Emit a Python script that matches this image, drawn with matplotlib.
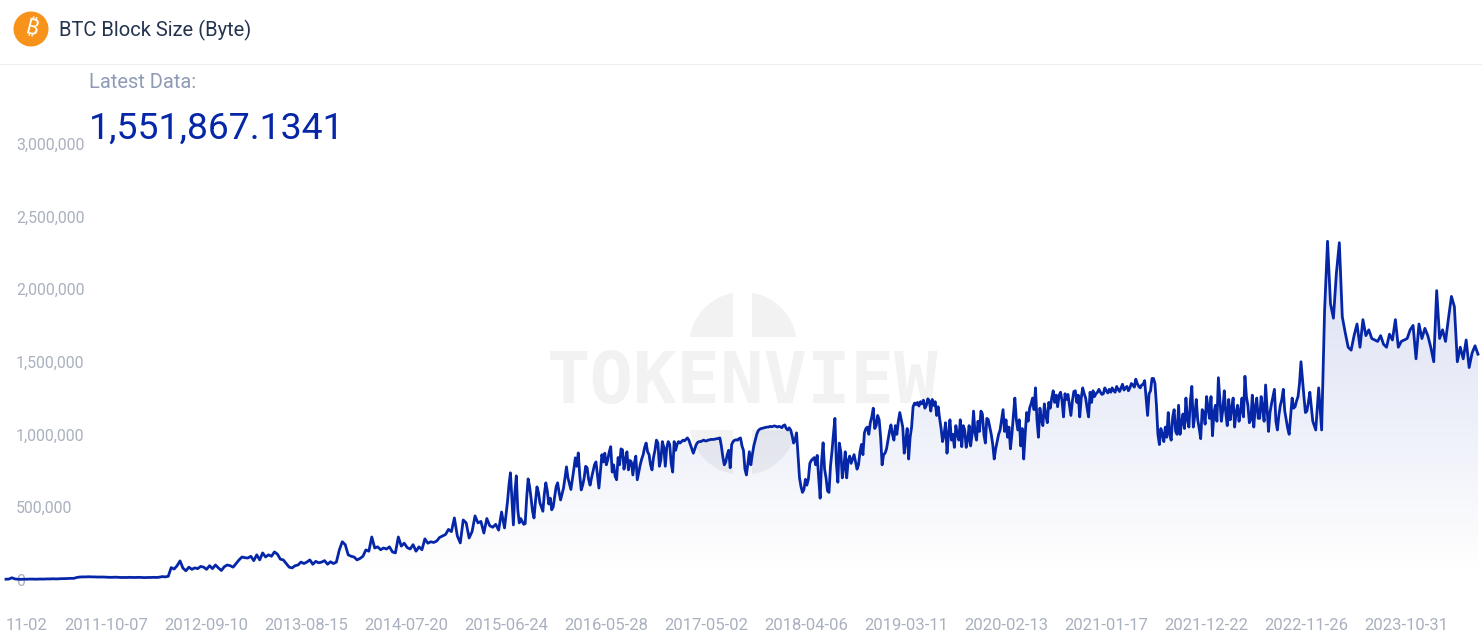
#!/usr/bin/env python3
"""BTC block size chart with gradient area fill"""

import numpy as np
import matplotlib
matplotlib.use("Agg")
import matplotlib.pyplot as plt
import matplotlib.dates as mdates
from matplotlib.patches import Circle, Rectangle

plt.rcParams['font.family'] = ['Roboto', 'DejaVu Sans']

TITLE = "BTC Block Size (Byte)"
LATEST_LABEL = "Latest Data:"
LATEST_VALUE = "1,551,867.1341"

x_tick_labels = ["2010-11-02", "2011-10-07", "2012-09-10", "2013-08-15", "2014-07-20",
                 "2015-06-24", "2016-05-28", "2017-05-02", "2018-04-06", "2019-03-11",
                 "2020-02-13", "2021-01-17", "2021-12-22", "2022-11-26", "2023-10-31"]
y_ticks = [0, 500000, 1000000, 1500000, 2000000, 2500000, 3000000]

# kilobytes, one reading every 10 days
sizes_2010 = [2, 3, 12, 4, 2, 1, 2, 2, 3, 3, 2, 3, 3, 3, 4, 4, 5, 4, 5, 6, 6, 7, 8, 8, 14, 17, 18, 18, 19, 18, 18, 17, 17, 17]
sizes_2011 = [16, 15, 15, 16, 15, 14, 14, 14, 15, 14, 14, 15, 14, 13, 14, 14, 15, 14, 16, 20, 18, 22, 82, 72, 95, 128, 78, 60, 85, 70, 80, 75, 90, 85]
sizes_2012 = [70, 95, 75, 100, 80, 62, 88, 100, 95, 85, 110, 135, 155, 150, 148, 160, 130, 170, 135, 183, 155, 170, 160, 190, 175, 140, 135, 110, 85, 80, 95, 100, 120, 110]
sizes_2013 = [120, 135, 105, 125, 115, 120, 130, 105, 122, 110, 120, 204, 260, 240, 170, 160, 155, 135, 145, 160, 204, 195, 293, 217, 225, 205, 217, 210, 225, 190, 183, 293, 230, 250]
sizes_2014 = [220, 210, 240, 195, 225, 205, 280, 250, 260, 255, 265, 290, 300, 310, 345, 330, 424, 300, 252, 410, 390, 286, 330, 438, 390, 400, 320, 420, 370, 360, 380, 340, 465, 355]
# the noisy years, one reading every 5 days
sizes_2015 = [535, 650, 735, 560, 376, 600, 714, 480, 390, 420, 400, 380, 385, 560, 693, 640, 560, 470, 424, 540, 638, 600, 528, 500, 470, 590, 666, 610, 520, 560, 480, 500, 570, 640, 666, 600, 548, 590, 630, 700, 776, 700, 660, 620, 690, 760, 838, 780, 872, 720, 617, 650, 700, 780, 770, 690, 650, 700, 745, 790, 810, 720, 630, 740, 860, 810, 870, 790]
sizes_2016 = [825, 880, 915, 740, 790, 710, 687, 840, 790, 900, 893, 760, 825, 880, 755, 820, 810, 720, 800, 850, 687, 740, 790, 830, 860, 910, 940, 880, 860, 790, 755, 840, 890, 960, 940, 780, 825, 950, 910, 780, 910, 950, 930, 800, 740, 950, 890, 930, 950, 940, 950, 960, 955, 965, 975, 960, 930, 900, 870, 900, 930, 945, 950, 950, 955, 960, 955, 955]
sizes_2017 = [960, 962, 965, 965, 965, 968, 970, 972, 975, 920, 845, 790, 810, 860, 890, 770, 930, 950, 960, 962, 960, 970, 975, 920, 890, 760, 720, 800, 880, 790, 860, 920, 960, 1000, 1025, 1035, 1040, 1042, 1045, 1048, 1050, 1050, 1055, 1052, 1055, 1058, 1055, 1050, 1055, 1052, 1045, 1060, 1065, 1040, 1030, 1045, 1030, 990, 940, 960, 1010, 860, 700, 640, 600, 620, 690, 650]
sizes_2018 = [690, 800, 820, 830, 840, 790, 855, 700, 560, 820, 942, 760, 700, 610, 600, 780, 880, 1000, 1110, 800, 670, 940, 880, 700, 770, 880, 700, 820, 850, 800, 830, 860, 810, 760, 790, 880, 930, 860, 1010, 1040, 1050, 1000, 1080, 1120, 1180, 1040, 1060, 1130, 1100, 980, 790, 860, 870, 900, 960, 1020, 1065, 1000, 960, 1060, 1000, 1090, 1150, 1100, 1050, 870, 950, 1040]
sizes_2019 = [830, 980, 1050, 1190, 1215, 1205, 1220, 1195, 1225, 1210, 1235, 1180, 1200, 1245, 1230, 1160, 1240, 1200, 1225, 1130, 1190, 1110, 1040, 950, 1000, 1080, 870, 1000, 1100, 960, 1000, 910, 1060, 1000, 960, 1100, 915, 1060, 1030, 910, 960, 1060, 920, 1000, 1160, 1010, 960, 1090, 1020, 1160, 1140, 1000, 940, 1110, 1100, 1050, 1000, 930, 830, 900, 950, 1000, 1030, 1100, 1170, 1020, 1100, 980]
sizes_2020 = [1050, 900, 1000, 1130, 1250, 1100, 1030, 1100, 920, 1040, 830, 1000, 1150, 1090, 1180, 1210, 1250, 1170, 1320, 1100, 980, 1180, 1100, 1060, 1210, 1130, 1080, 1220, 1180, 1250, 1300, 1220, 1270, 1190, 1270, 1290, 1230, 1120, 1280, 1240, 1275, 1200, 1130, 1230, 1295, 1300, 1220, 1270, 1120, 1250, 1320, 1280, 1250, 1180, 1120, 1290, 1220, 1300, 1260, 1280, 1290, 1310, 1290, 1275, 1280, 1320, 1300, 1285]
sizes_2021 = [1310, 1290, 1320, 1300, 1290, 1330, 1310, 1295, 1320, 1345, 1305, 1320, 1330, 1300, 1320, 1350, 1340, 1325, 1380, 1350, 1330, 1320, 1340, 1345, 1370, 1250, 1130, 1280, 1300, 1385, 1385, 1350, 1200, 1000, 930, 1040, 1000, 950, 1050, 980, 1150, 1000, 960, 1120, 1170, 1020, 1000, 1200, 1000, 1080, 1140, 1040, 1250, 1100, 1050, 1230, 1330, 1050, 1130, 1240, 1100, 1040, 970, 1170, 1150, 1070, 1260, 1180]
sizes_2022 = [1110, 1260, 990, 1150, 1200, 1090, 1390, 1240, 1090, 1170, 1300, 1150, 1060, 1240, 1100, 1180, 1250, 1050, 1150, 1200, 1090, 1160, 1250, 1120, 1400, 1260, 1200, 1080, 1100, 1270, 1050, 1190, 1250, 1110, 1110, 1260, 1180, 1090, 1340, 1180, 1020, 1150, 1210, 1260, 1310, 1090, 1030, 1130, 1200, 1240, 1310, 1160, 1100, 1040, 1000, 1130, 1250, 1180, 1190, 1230, 1260, 1350, 1500, 1380, 1260, 1150, 1160, 1220]
# back to 10 days
sizes_2023 = [1290, 1090, 1030, 1320, 1030, 1850, 2330, 1900, 1800, 2110, 2320, 1810, 1700, 1600, 1580, 1680, 1760, 1600, 1790, 1680, 1720, 1660, 1650, 1640, 1680, 1620, 1600, 1690, 1650, 1790, 1600, 1640, 1650, 1660]
sizes_2024 = [1720, 1750, 1520, 1760, 1660, 1730, 1680, 1600, 1500, 1990, 1660, 1720, 1640, 1800, 1950, 1880, 1500, 1600, 1520, 1650, 1460, 1560, 1610, 1552]

rows_10d_a = [sizes_2010, sizes_2011, sizes_2012, sizes_2013, sizes_2014]
rows_5d = [sizes_2015, sizes_2016, sizes_2017, sizes_2018, sizes_2019, sizes_2020, sizes_2021, sizes_2022]
rows_10d_b = [sizes_2023, sizes_2024]

sizes = 1000 * np.array(sum(rows_10d_a + rows_5d + rows_10d_b, []), dtype=float)
steps = [10] * sum(map(len, rows_10d_a)) + [5] * sum(map(len, rows_5d)) + [10] * sum(map(len, rows_10d_b))
days = np.concatenate([[0], np.cumsum(steps)[:-1]])

LINE_BLUE = "#0626a8"
W, H = 1482, 640
PX_PER_DAY = 100 / 339

tick_nums = mdates.date2num(np.array(x_tick_labels, dtype="datetime64[D]"))
x = tick_nums[0] + days

fig = plt.figure(figsize=(W / 100, H / 100), dpi=100, facecolor="white")

# layer in pixel coordinates: header and watermark
bg = fig.add_axes([0, 0, 1, 1], zorder=0)
bg.set_xlim(0, W)
bg.set_ylim(H, 0)
bg.axis("off")

bg.add_patch(Rectangle((0, 64), W, 1, color="#eeeeee", lw=0))
bg.add_patch(Circle((31, 29), 17.5, color="#f7931a", lw=0))
bg.text(31.5, 29, "\u20bf", color="white", fontsize=16, fontweight="bold", rotation=-14,
        ha="center", va="center", family=["Noto Sans", "Inter", "Lato", "Open Sans", "DejaVu Sans"])
bg.text(59, 30, TITLE, color="#24344d", fontsize=14.5, ha="left", va="center")
bg.text(89, 83, LATEST_LABEL, color="#8f9bb6", fontsize=14.5, ha="left", va="center")
bg.text(89, 128.5, LATEST_VALUE, color=LINE_BLUE, fontsize=26.9, ha="left", va="center")

WATER = "#f2f2f2"
top_dome = bg.add_patch(Circle((743, 346), 54, color=WATER, lw=0))
top_dome.set_clip_path(Rectangle((680, 290), 125, 47, transform=bg.transData))
low_dome = bg.add_patch(Circle((743, 421), 54, color=WATER, lw=0))
low_dome.set_clip_path(Rectangle((680, 430), 125, 47, transform=bg.transData))
bg.add_patch(Rectangle((733, 288), 19, 52, color="white", lw=0))
bg.add_patch(Rectangle((733, 428), 19, 50, color="white", lw=0))
bg.text(743, 383.5, "TOKENVIEW", color=WATER, fontsize=52, fontweight="bold",
        ha="center", va="center", family=["DejaVu Sans Mono"])

# chart axes: 100 px between the date ticks, 0 at y=579.5, 3M at y=144
left = 6
width = (x[-1] - x[0]) * PX_PER_DAY
ax = fig.add_axes([left / W, (H - 579.5) / H, width / W, (579.5 - 144) / H], zorder=1)
ax.patch.set_alpha(0)

# area gradient, clipped to the area under the line
area = ax.fill_between(x, sizes, 0, color="none", lw=0)
grad = np.zeros((256, 2, 4))
grad[..., :3] = matplotlib.colors.to_rgb(LINE_BLUE)
grad[..., 3] = np.linspace(0.15, 0, 256)[:, None]
im = ax.imshow(grad, extent=[x[0], x[-1], 0, sizes.max()], origin="upper", aspect="auto", zorder=1)
im.set_clip_path(area.get_paths()[0], transform=ax.transData)
ax.set_xlim(x[0], x[-1])
ax.set_ylim(0, 3000000)

ax.plot(x, sizes, color=LINE_BLUE, lw=2.0, zorder=3, clip_on=False, solid_joinstyle="round")

for side in ax.spines.values():
    side.set_visible(False)
ax.set_xticks(tick_nums)
# the first date is cut by the chart's left edge, only its month and day show
ax.set_xticklabels([x_tick_labels[0][5:]] + x_tick_labels[1:])
ax.get_xticklabels()[0].set_ha("left")
ax.set_yticks(y_ticks)
ax.set_yticklabels([f"{v:,}" for v in y_ticks])
ax.tick_params(axis="x", length=0, pad=27.5, labelsize=12, labelcolor="#a9b0bf")
ax.tick_params(axis="y", length=0, pad=-7.2, labelsize=11.4, labelcolor="#a9b0bf")
for lab in ax.get_yticklabels():
    lab.set_ha("left")

fig.savefig("out.png", dpi=100)
